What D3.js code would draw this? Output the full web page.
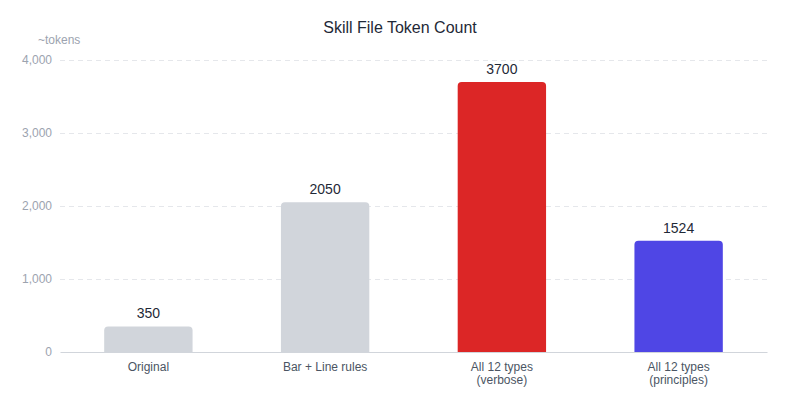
<!DOCTYPE html>
<html>
<head>
<meta charset="utf-8">
<script src="https://cdn.jsdelivr.net/npm/d3@7"></script>
<style>
  body { margin: 0; background: #fff; }
  svg { font-family: "Liberation Sans", Arial, sans-serif; }
</style>
</head>
<body>
<svg id="chart"></svg>
<script>
const categories = ['Original', 'Bar + Line rules', 'All 12 types\n(verbose)', 'All 12 types\n(principles)'];
const tokens = [350, 2050, 3700, 1524];
const barColors = ['#d1d5db', '#d1d5db', '#dc2626', '#4f46e5'];
const yTicks = [0, 1000, 2000, 3000, 4000];

const width = 800, height = 400;
const margin = {top: 60, right: 33, bottom: 48, left: 60};
const font = '"Liberation Sans", Arial, sans-serif';

let svg = d3.select('#chart')
    .attr('width', width)
    .attr('height', height);

let xScale = d3.scaleBand()
    .domain(categories)
    .range([margin.left, width - margin.right])
    .paddingInner(0.5)
    .paddingOuter(0.25);

let yScale = d3.scaleLinear()
    .domain([0, 4000])
    .range([height - margin.bottom, margin.top]);

// title
svg.append('text')
    .attr('x', width / 2)
    .attr('y', 33)
    .attr('text-anchor', 'middle')
    .attr('font-size', 16)
    .attr('fill', '#1f2937')
    .text('Skill File Token Count');

svg.append('text')
    .attr('x', 38)
    .attr('y', 44)
    .attr('font-size', 12)
    .attr('fill', '#9ca3af')
    .text('~tokens');

// grid + y labels
let yAxis = d3.axisLeft(yScale)
    .tickValues(yTicks)
    .tickFormat(d3.format(','))
    .tickSize(-(width - margin.left - margin.right))
    .tickPadding(8);
let yG = svg.append('g')
    .attr('transform', `translate(${margin.left}, 0)`)
    .call(yAxis);
yG.select('.domain').remove();
yG.selectAll('.tick line')
    .attr('stroke', '#e5e7eb')
    .attr('stroke-dasharray', '5,4')
    .filter(d => d === 0).remove();
yG.selectAll('.tick text')
    .attr('fill', '#9ca3af')
    .attr('font-size', 12)
    .attr('font-family', font);

// bars with rounded tops
const r = 4;
function barPath(d, i) {
    let x0 = xScale(categories[i]), x1 = x0 + xScale.bandwidth();
    let y0 = yScale(0), y1 = yScale(d);
    return `M${x0},${y0}V${y1 + r}Q${x0},${y1} ${x0 + r},${y1}H${x1 - r}Q${x1},${y1} ${x1},${y1 + r}V${y0}Z`;
}
svg.append('g').selectAll('path')
    .data(tokens)
    .join('path')
    .attr('d', barPath)
    .attr('fill', (d, i) => barColors[i]);

// value labels
svg.append('g').selectAll('text')
    .data(tokens)
    .join('text')
    .attr('x', (d, i) => xScale(categories[i]) + xScale.bandwidth() / 2)
    .attr('y', d => yScale(d) - 8)
    .attr('text-anchor', 'middle')
    .attr('font-size', 14)
    .attr('fill', '#1f2937')
    .text(d => d);

// x axis
let xAxis = d3.axisBottom(xScale).tickSize(0).tickFormat('');
let xG = svg.append('g')
    .attr('transform', `translate(0, ${yScale(0)})`)
    .call(xAxis);
xG.select('.domain').attr('stroke', '#d1d5db');
xG.selectAll('.tick').each(function (d) {
    let t = d3.select(this).append('text')
        .attr('fill', '#4b5563')
        .attr('font-size', 12)
        .attr('font-family', font)
        .attr('text-anchor', 'middle');
    d.split('\n').forEach((line, k) => {
        t.append('tspan').attr('x', 0).attr('y', 19 + k * 13).text(line);
    });
});
</script>
</body>
</html>
